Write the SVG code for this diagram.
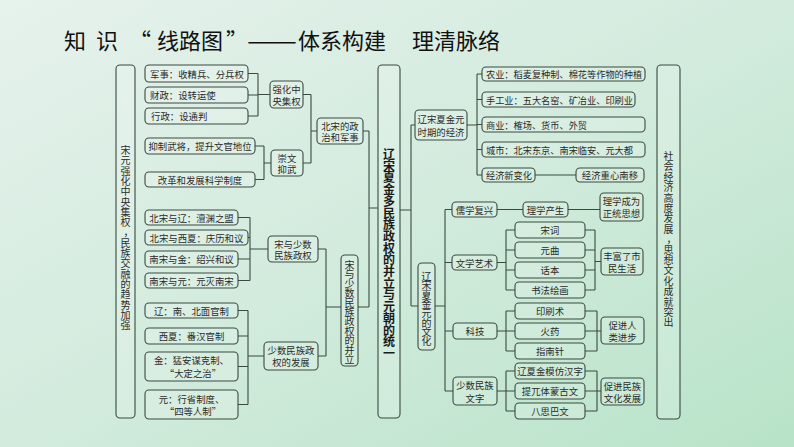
<svg xmlns="http://www.w3.org/2000/svg" width="794" height="447" viewBox="0 0 794 447">
<defs>
<linearGradient id="bg" x1="0" y1="0" x2="1" y2="1">
<stop offset="0" stop-color="#e6f2ec"/>
<stop offset="0.5" stop-color="#d2ebdd"/>
<stop offset="1" stop-color="#b8e3c8"/>
</linearGradient>
<style>
.b{fill:#ffffff;fill-opacity:.16;stroke:#3a4a40;stroke-width:1.1}
.t{font-family:"Noto Sans CJK SC","Noto Sans CJK JP",sans-serif;font-size:9.4px;fill:#2b2b2b;dominant-baseline:central}
.c{text-anchor:middle}
.v{font-size:10px}
.big{font-size:12px;font-weight:bold;fill:#1a1a1a}
.ttl{font-family:"Noto Sans CJK SC","Noto Sans CJK JP",sans-serif;font-size:22px;fill:#111;dominant-baseline:central}
#connectors path{stroke:#3a4a40;stroke-width:1.1;fill:none}
</style>
</defs>
<rect width="794" height="447" fill="url(#bg)"/>
<g id="title">
<text class="ttl" x="64" y="39">知</text>
<text class="ttl" x="96" y="39">识</text>
<text class="ttl" x="129" y="39">“</text>
<text class="ttl" x="157" y="39">线路图</text>
<text class="ttl" x="226" y="39">”</text>
<text class="ttl" x="247" y="39" textLength="50" lengthAdjust="spacingAndGlyphs">——</text>
<text class="ttl" x="298" y="39">体系构建</text>
<text class="ttl" x="412" y="39">理清脉络</text>
</g>
<g id="connectors">
<path d="M248 73.5H258M248 95H258M248 116H258M258 73.5V116M258 94.5H270"/>
<path d="M255 146H264M255 179.5H264M264 146V179.5M264 163H271"/>
<path d="M303 94.5H311M303 163H311M311 94.5V163M311 131H317"/>
<path d="M363 131H369M369 131V307M358 307H369M369 208H378"/>
<path d="M238 217.5H250M248 237.5H250M238 259H250M238 280.5H250M250 217.5V280.5M250 249H268"/>
<path d="M238 310.5H248M238 336H248M238 366.5H248M238 404.5H248M248 310.5V404.5M248 356H264"/>
<path d="M318 249H326M318 356H326M326 249V356M326 307H341"/>
<path d="M400 210H411M411 125V306M411 125H415M411 306H418"/>
<path d="M467 125H477M477 74V175M477 74H482M477 99.5H482M477 124.5H482M477 149.5H482M477 175H482"/>
<path d="M535 175H576"/>
<path d="M435 306H445M445 209.5V391M445 209.5H452M445 262.5H452M445 331H453M445 391H453"/>
<path d="M497 209.5H523M568 209.5H600"/>
<path d="M497 262.5H506M506 230V290M506 230H515M506 250H515M506 270H515M506 290H515M585 230H595M585 250H595M585 270H595M585 290H595M595 230V290M595 261.5H601"/>
<path d="M497 331H506M506 311V351M506 311H515M506 331H515M506 351H515M585 311H597M585 331H597M585 351H597M597 311V351M597 331H601"/>
<path d="M497 391H506M506 371V411M506 371H515M506 391H515M506 411H515M585 371H597M585 391H597M585 411H597M597 371V411M597 391H601"/>
</g>
<g id="n-left">
<rect class="b" x="116" y="65" width="19" height="353" rx="4"/>
<text class="t v c"><tspan x="125.5" y="149">宋</tspan><tspan x="125.5" y="159.3">元</tspan><tspan x="125.5" y="169.6">强</tspan><tspan x="125.5" y="179.9">化</tspan><tspan x="125.5" y="190.2">中</tspan><tspan x="125.5" y="200.5">央</tspan><tspan x="125.5" y="210.8">集</tspan><tspan x="125.5" y="221.1">权</tspan><tspan x="128.5" y="231.4">，</tspan><tspan x="125.5" y="241.7">民</tspan><tspan x="125.5" y="252">族</tspan><tspan x="125.5" y="262.3">交</tspan><tspan x="125.5" y="272.6">融</tspan><tspan x="125.5" y="282.9">的</tspan><tspan x="125.5" y="293.2">趋</tspan><tspan x="125.5" y="303.5">势</tspan><tspan x="125.5" y="313.8">加</tspan><tspan x="125.5" y="324.1">强</tspan></text>
</g>
<g id="n-junshi"><rect class="b" x="145" y="65" width="103" height="17" rx="4"/><text class="t" x="150" y="73.5">军事：收精兵、分兵权</text></g>
<g id="n-caizheng"><rect class="b" x="145" y="87" width="103" height="16" rx="4"/><text class="t" x="150" y="95">财政：设转运使</text></g>
<g id="n-xingzheng"><rect class="b" x="145" y="108" width="103" height="16" rx="4"/><text class="t" x="151" y="116">行政：设通判</text></g>
<g id="n-yizhi"><rect class="b" x="145" y="138" width="110" height="16" rx="4"/><text class="t c" x="200" y="146">抑制武将，提升文官地位</text></g>
<g id="n-gaige"><rect class="b" x="145" y="172" width="110" height="15" rx="4"/><text class="t c" x="200" y="179.5">改革和发展科学制度</text></g>
<g id="n-qianghua"><rect class="b" x="270" y="81" width="33" height="27" rx="4"/><text class="t c" x="286.5" y="89">强化中</text><text class="t c" x="286.5" y="100.5">央集权</text></g>
<g id="n-chongwen"><rect class="b" x="271" y="150" width="32" height="26" rx="4"/><text class="t c" x="287" y="157.5">崇文</text><text class="t c" x="287" y="169">抑武</text></g>
<g id="n-beisong"><rect class="b" x="317" y="118" width="46" height="26" rx="4"/><text class="t c" x="340" y="125.5">北宋的政</text><text class="t c" x="340" y="137">治和军事</text></g>
<g id="n-liao"><rect class="b" x="145" y="210" width="93" height="15" rx="4"/><text class="t c" x="191.5" y="217.5">北宋与辽：澶渊之盟</text></g>
<g id="n-xixia"><rect class="b" x="145" y="230" width="103" height="15" rx="4"/><text class="t c" x="196.5" y="237.5">北宋与西夏：庆历和议</text></g>
<g id="n-jin"><rect class="b" x="145" y="251" width="93" height="16" rx="4"/><text class="t c" x="191.5" y="259">南宋与金：绍兴和议</text></g>
<g id="n-yuan"><rect class="b" x="145" y="273" width="93" height="15" rx="4"/><text class="t c" x="191.5" y="280.5">南宋与元：元灭南宋</text></g>
<g id="n-songyu"><rect class="b" x="268" y="236" width="50" height="26" rx="4"/><text class="t c" x="293" y="243.5">宋与少数</text><text class="t c" x="293" y="255">民族政权</text></g>
<g id="n-liaozhi"><rect class="b" x="145" y="303" width="93" height="15" rx="4"/><text class="t c" x="191.5" y="310.5">辽：南、北面官制</text></g>
<g id="n-xixiazhi"><rect class="b" x="145" y="328" width="93" height="16" rx="4"/><text class="t c" x="191.5" y="336">西夏：番汉官制</text></g>
<g id="n-jinzhi"><rect class="b" x="145" y="352" width="93" height="29" rx="4"/><text class="t c" x="191.5" y="360">金：猛安谋克制、</text><text class="t c" x="193" y="373">“大定之治”</text></g>
<g id="n-yuanzhi"><rect class="b" x="145" y="390" width="93" height="29" rx="4"/><text class="t c" x="191.5" y="398.5">元：行省制度、</text><text class="t c" x="193" y="411">“四等人制”</text></g>
<g id="n-fazhan"><rect class="b" x="264" y="342" width="54" height="28" rx="4"/><text class="t c" x="291" y="350">少数民族政</text><text class="t c" x="291" y="362">权的发展</text></g>
<g id="n-bingli">
<rect class="b" x="341" y="255" width="17" height="111" rx="4"/>
<text class="t v c"><tspan x="349.5" y="264">宋</tspan><tspan x="349.5" y="273.4">与</tspan><tspan x="349.5" y="282.8">少</tspan><tspan x="349.5" y="292.2">数</tspan><tspan x="349.5" y="301.6">民</tspan><tspan x="349.5" y="311">族</tspan><tspan x="349.5" y="320.4">政</tspan><tspan x="349.5" y="329.8">权</tspan><tspan x="349.5" y="339.2">的</tspan><tspan x="349.5" y="348.6">并</tspan><tspan x="349.5" y="358">立</tspan></text>
</g>
<g id="n-center">
<rect class="b" x="378" y="65" width="22" height="353" rx="4"/>
<text class="t big c"><tspan x="389" y="153">辽</tspan><tspan x="389" y="164.7">宋</tspan><tspan x="389" y="176.4">夏</tspan><tspan x="389" y="188.1">金</tspan><tspan x="389" y="199.8">多</tspan><tspan x="389" y="211.5">民</tspan><tspan x="389" y="223.2">族</tspan><tspan x="389" y="234.9">政</tspan><tspan x="389" y="246.6">权</tspan><tspan x="389" y="258.3">的</tspan><tspan x="389" y="270">并</tspan><tspan x="389" y="281.7">立</tspan><tspan x="389" y="293.4">与</tspan><tspan x="389" y="305.1">元</tspan><tspan x="389" y="316.8">朝</tspan><tspan x="389" y="328.5">的</tspan><tspan x="389" y="340.2">统</tspan><tspan x="389" y="351.9">一</tspan></text>
</g>
<g id="n-jingji"><rect class="b" x="415" y="110" width="52" height="30" rx="4"/><text class="t c" x="441" y="118.5">辽宋夏金元</text><text class="t c" x="441" y="131.5">时期的经济</text></g>
<g id="n-nongye"><rect class="b" x="482" y="67" width="163" height="14" rx="4"/><text class="t" x="486" y="74" style="font-size:9.2px">农业：稻麦复种制、棉花等作物的种植</text></g>
<g id="n-shougong"><rect class="b" x="482" y="92" width="153" height="15" rx="4"/><text class="t" x="486" y="99.5" style="font-size:9.2px">手工业：五大名窑、矿冶业、印刷业</text></g>
<g id="n-shangye"><rect class="b" x="482" y="117" width="163" height="15" rx="4"/><text class="t" x="486" y="124.5" style="font-size:9.2px">商业：榷场、货币、外贸</text></g>
<g id="n-chengshi"><rect class="b" x="482" y="142" width="163" height="15" rx="4"/><text class="t" x="486" y="149.5" style="font-size:9.2px">城市：北宋东京、南宋临安、元大都</text></g>
<g id="n-xinbianhua"><rect class="b" x="482" y="168" width="53" height="14" rx="4"/><text class="t" x="486" y="175" style="font-size:9.2px">经济新变化</text></g>
<g id="n-nanyi"><rect class="b" x="576" y="168" width="68" height="14" rx="4"/><text class="t c" x="610" y="175">经济重心南移</text></g>
<g id="n-wenhua">
<rect class="b" x="418" y="263" width="17" height="87" rx="4"/>
<text class="t v c"><tspan x="426.5" y="275">辽</tspan><tspan x="426.5" y="284.3">宋</tspan><tspan x="426.5" y="293.6">夏</tspan><tspan x="426.5" y="302.9">金</tspan><tspan x="426.5" y="312.2">元</tspan><tspan x="426.5" y="321.5">的</tspan><tspan x="426.5" y="330.8">文</tspan><tspan x="426.5" y="340.1">化</tspan></text>
</g>
<g id="n-ruxue"><rect class="b" x="452" y="202" width="45" height="15" rx="4"/><text class="t c" x="474.5" y="209.5">儒学复兴</text></g>
<g id="n-lixue"><rect class="b" x="523" y="202" width="45" height="15" rx="4"/><text class="t c" x="545.5" y="209.5">理学产生</text></g>
<g id="n-zhengtong"><rect class="b" x="600" y="193" width="43" height="28" rx="4"/><text class="t c" x="621.5" y="201">理学成为</text><text class="t c" x="621.5" y="213">正统思想</text></g>
<g id="n-wenxue"><rect class="b" x="452" y="255" width="45" height="15" rx="4"/><text class="t c" x="474.5" y="262.5">文学艺术</text></g>
<g id="n-songci"><rect class="b" x="515" y="222" width="70" height="16" rx="4"/><text class="t c" x="550" y="230">宋词</text></g>
<g id="n-yuanqu"><rect class="b" x="515" y="242" width="70" height="16" rx="4"/><text class="t c" x="550" y="250">元曲</text></g>
<g id="n-huaben"><rect class="b" x="515" y="262" width="70" height="16" rx="4"/><text class="t c" x="550" y="270">话本</text></g>
<g id="n-shufa"><rect class="b" x="515" y="282" width="70" height="16" rx="4"/><text class="t c" x="550" y="290">书法绘画</text></g>
<g id="n-shimin"><rect class="b" x="601" y="248" width="42" height="27" rx="4"/><text class="t c" x="622" y="255.5">丰富了市</text><text class="t c" x="622" y="267.5">民生活</text></g>
<g id="n-keji"><rect class="b" x="453" y="323" width="44" height="16" rx="4"/><text class="t c" x="475" y="331">科技</text></g>
<g id="n-yinshua"><rect class="b" x="515" y="303" width="70" height="16" rx="4"/><text class="t c" x="550" y="311">印刷术</text></g>
<g id="n-huoyao"><rect class="b" x="515" y="323" width="70" height="16" rx="4"/><text class="t c" x="550" y="331">火药</text></g>
<g id="n-zhinan"><rect class="b" x="515" y="343" width="70" height="16" rx="4"/><text class="t c" x="550" y="351">指南针</text></g>
<g id="n-renlei"><rect class="b" x="601" y="317" width="43" height="27" rx="4"/><text class="t c" x="622.5" y="324.5">促进人</text><text class="t c" x="622.5" y="337">类进步</text></g>
<g id="n-wenzi"><rect class="b" x="453" y="377" width="44" height="28" rx="4"/><text class="t c" x="475" y="385">少数民族</text><text class="t c" x="475" y="397.5">文字</text></g>
<g id="n-fangzhi"><rect class="b" x="515" y="363" width="70" height="16" rx="4"/><text class="t c" x="550" y="371">辽夏金模仿汉字</text></g>
<g id="n-menggu"><rect class="b" x="515" y="383" width="70" height="16" rx="4"/><text class="t c" x="550" y="391">提兀体蒙古文</text></g>
<g id="n-basiba"><rect class="b" x="515" y="403" width="70" height="16" rx="4"/><text class="t c" x="550" y="411">八思巴文</text></g>
<g id="n-minzu"><rect class="b" x="601" y="378" width="43" height="27" rx="4"/><text class="t c" x="622.5" y="385.5">促进民族</text><text class="t c" x="622.5" y="398">文化发展</text></g>
<g id="n-right">
<rect class="b" x="657" y="65" width="23" height="354" rx="4"/>
<text class="t v c"><tspan x="668.5" y="155">社</tspan><tspan x="668.5" y="165.4">会</tspan><tspan x="668.5" y="175.8">经</tspan><tspan x="668.5" y="186.2">济</tspan><tspan x="668.5" y="196.6">高</tspan><tspan x="668.5" y="207">度</tspan><tspan x="668.5" y="217.4">发</tspan><tspan x="668.5" y="227.8">展</tspan><tspan x="671.5" y="238.2">，</tspan><tspan x="668.5" y="248.6">思</tspan><tspan x="668.5" y="259">想</tspan><tspan x="668.5" y="269.4">文</tspan><tspan x="668.5" y="279.8">化</tspan><tspan x="668.5" y="290.2">成</tspan><tspan x="668.5" y="300.6">就</tspan><tspan x="668.5" y="311">突</tspan><tspan x="668.5" y="321.4">出</tspan></text>
</g>
</svg>
